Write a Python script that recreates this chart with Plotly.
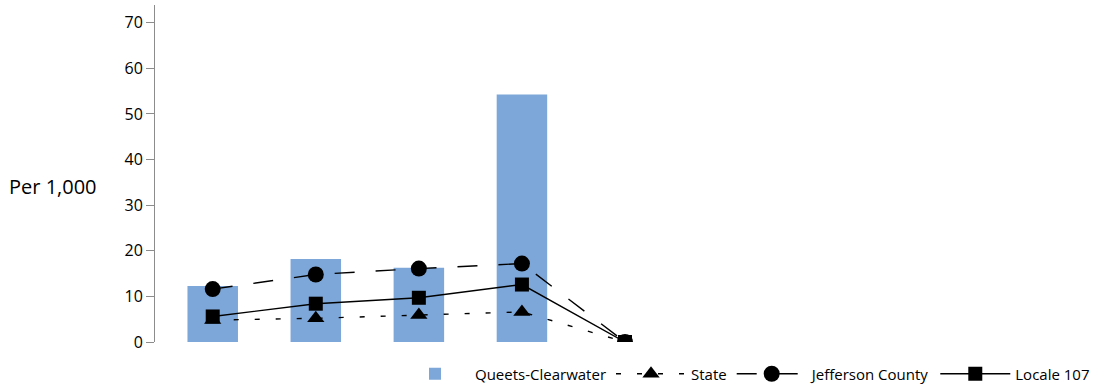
import plotly.graph_objects as go

categories = ["P1", "P2", "P3", "P4", "P5"]
queets_clearwater = [12.3, 18.2, 16.3, 54.3, 0]
state = [4.8, 5.2, 5.9, 6.6, 0]
jefferson_county = [11.6, 14.8, 16.1, 17.2, 0]
locale_107 = [5.6, 8.4, 9.7, 12.6, 0]
y_ticks = [0, 10, 20, 30, 40, 50, 60, 70]

FONT = "Open Sans, Noto Sans, sans-serif"
BAR_COLOR = "#7DA7D8"

fig = go.Figure()
fig.add_trace(go.Bar(
    x=categories, y=queets_clearwater, name="Queets-Clearwater",
    marker=dict(color=BAR_COLOR, line=dict(width=0)), width=0.49,
))
fig.add_trace(go.Scatter(
    x=categories, y=state, name="State", mode="lines+markers",
    line=dict(color="black", width=1.4, dash="5px,16px"),
    marker=dict(symbol="triangle-up", size=15, color="black"),
))
fig.add_trace(go.Scatter(
    x=categories, y=jefferson_county, name="Jefferson County", mode="lines+markers",
    line=dict(color="black", width=1.4, dash="20px,21px"),
    marker=dict(symbol="circle", size=16, color="black"),
))
fig.add_trace(go.Scatter(
    x=categories, y=locale_107, name="Locale 107", mode="lines+markers",
    line=dict(color="black", width=1.4),
    marker=dict(symbol="square", size=14, color="black"),
))

fig.update_layout(
    width=1105, height=386,
    margin=dict(l=155, r=10, t=5, b=44, autoexpand=False),
    plot_bgcolor="white", paper_bgcolor="white",
    font=dict(family=FONT, size=15, color="black"),
    showlegend=True,
    legend=dict(
        orientation="h", x=1.0, xanchor="right", y=-0.095, yanchor="middle",
        font=dict(size=15, family=FONT, color="black"),
        itemwidth=70, traceorder="normal", bgcolor="rgba(0,0,0,0)",
    ),
    xaxis=dict(
        type="category", range=[-0.56, 8.56], showticklabels=False,
        showline=False, showgrid=False, zeroline=False, ticks="",
        automargin=False,
    ),
    yaxis=dict(
        range=[0, 73.9], tickvals=y_ticks, showgrid=False, zeroline=False,
        showline=True, linecolor="#8c8c8c", linewidth=1,
        ticks="outside", ticklen=8, tickcolor="#8c8c8c",
        tickfont=dict(size=16, family=FONT, color="black"),
        automargin=False,
    ),
    annotations=[dict(
        text="Per 1,000", xref="paper", yref="paper", x=-0.157, y=0.46,
        xanchor="left", yanchor="middle", showarrow=False,
        font=dict(size=20, family=FONT, color="black"),
    )],
)

fig.write_html("out.html", config={"displayModeBar": False},
               post_script="document.body.style.margin='0';")
